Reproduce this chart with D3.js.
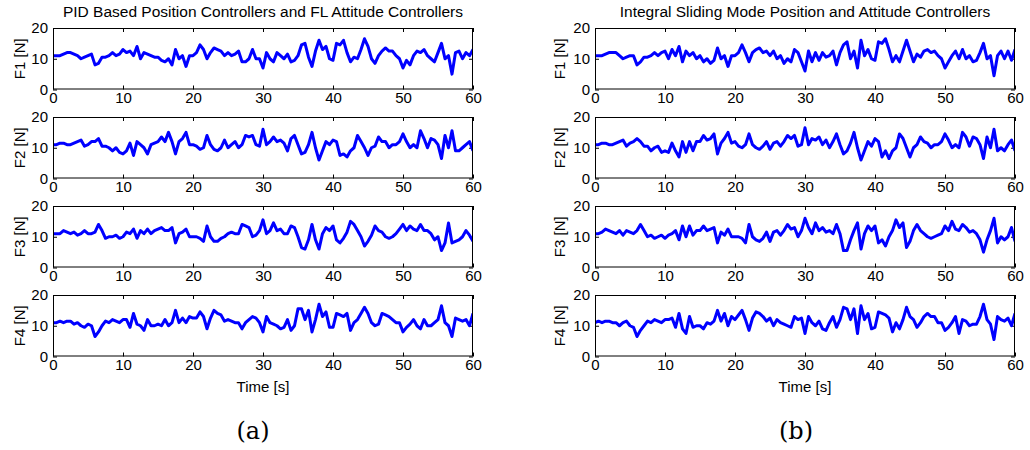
<!DOCTYPE html>
<html>
<head>
<meta charset="utf-8">
<script src="https://cdn.jsdelivr.net/npm/d3@7"></script>
<style>
  body { margin: 0; background: #fff; }
  svg text { font-family: "Liberation Sans", Arial, Helvetica, sans-serif; fill: #000; }
</style>
</head>
<body>
<svg id="chart" width="1030" height="450"></svg>
<script>
// Rotor thrusts sampled every SAMPLE_STEP seconds over a 60 s flight
const SAMPLE_STEP = 0.5;
const xTicks = [0, 10, 20, 30, 40, 50, 60];
const yTicks = [0, 10, 20];
const motorLabels = ["F1 [N]", "F2 [N]", "F3 [N]", "F4 [N]"];
const panelTitles = [
  "PID Based Position Controllers and FL Attitude Controllers",
  "Integral Sliding Mode Position and Attitude Controllers"
];
const panelTags = ["(a)", "(b)"];
const timeLabel = "Time [s]";

// (a) PID position + feedback-linearisation attitude
const pidF1 = [
  11, 11, 11, 11.5, 12, 12, 11.5, 11, 10, 10.5,
  11, 11.5, 8, 8.5, 10.5, 10.5, 11, 12, 11, 11.5,
  13, 12, 12.5, 11, 14, 10, 12, 11.5, 11, 10.5,
  10.5, 9.5, 9, 10, 8, 13, 10, 11, 7.5, 11,
  11, 12, 14.5, 13, 10, 12, 13.5, 13, 12.5, 11,
  12, 11, 11.5, 12.5, 9, 9, 10, 13, 10, 10,
  7, 12, 10, 9, 12, 11, 10, 11.5, 9, 9.5,
  11, 14.5, 15, 10.5, 7.5, 12.5, 16, 13, 14, 10,
  9.5, 15, 14.5, 16, 12, 9, 10.5, 10, 13, 16.5,
  14, 10, 8.5, 11, 12.5, 13.5, 12.5, 12.5, 11, 10,
  7, 9.5, 8, 11, 12.5, 12, 13, 11, 10, 9,
  12, 15, 10, 11, 5, 12, 12.5, 10, 12, 11,
  13
];
const pidF2 = [
  11, 11, 11.5, 11.5, 11, 11, 11.5, 12, 12.5, 10.5,
  11, 12, 12, 13, 10.5, 10.5, 10, 9, 10, 8.5,
  8, 9, 11.5, 7.5, 12, 11, 10, 8, 11, 11.5,
  12, 13.5, 12, 15, 12, 8, 12, 13, 15, 11,
  11, 10.5, 9.5, 10, 14, 11, 9.5, 9, 10, 12.5,
  10, 11, 12, 10, 11, 14, 13.5, 14, 11, 10.5,
  16, 11, 12, 13.5, 12, 12.5, 11.5, 9, 13, 14,
  11, 8, 8.5, 11, 15, 10, 6, 9, 12, 11,
  12.5, 12, 7.5, 8, 7, 9, 10, 14, 12, 10,
  7.5, 10, 10.5, 13.5, 12, 12, 10, 11, 11, 12,
  14.5, 12, 10, 11, 10, 15.5, 13, 10, 13, 12.5,
  11, 6.5, 14, 10, 15.5, 9, 9, 10, 11, 12,
  9
];
const pidF3 = [
  11, 11, 11, 12, 11.5, 11, 11.5, 10.5, 11, 12,
  11, 11, 11.5, 14, 12, 9.5, 10, 10, 10.5, 9.5,
  10, 11.5, 11, 12.5, 9.5, 12, 11, 12.5, 11, 12,
  12.5, 13, 12, 12, 13, 8, 11, 11.5, 12.5, 10,
  10, 10, 9.5, 8.5, 13.5, 10, 8.5, 8.5, 9.5, 10,
  11, 11.5, 11, 11, 14, 13.5, 13, 10, 10.5, 12,
  15.5, 11, 12, 14.5, 12, 12.5, 11, 11, 13.5, 13,
  10, 6.5, 6, 9, 14, 9, 6, 11, 13, 12,
  13.5, 9, 8, 9.5, 11.5, 15, 14, 12, 10, 7,
  8.5, 10.5, 13.5, 12, 11.5, 10, 9.5, 10, 11, 12.5,
  14, 12, 13.5, 12.5, 12, 14, 12, 12, 11, 9,
  10, 5.5, 8, 14.5, 8, 8.5, 9, 10, 12, 10.5,
  8.5
];
const pidF4 = [
  11, 11, 11.5, 11, 11.5, 11.5, 10.5, 11, 10, 9.5,
  10.5, 10, 6.5, 8, 10, 11.5, 11, 12, 11.5, 11,
  12, 12, 9.5, 14, 10.5, 10, 8.5, 12, 10, 10,
  10.5, 10, 12, 10, 11, 15, 11, 12.5, 11, 13,
  12.5, 12.5, 14.5, 13, 9, 12.5, 15, 14, 13.5, 11.5,
  12, 11.5, 11, 11, 9, 11, 12, 13, 12.5, 11,
  8, 13, 11, 10.5, 10, 9, 9.5, 12, 8.5, 10,
  15.5, 15.5, 12, 15, 8, 12, 17, 13, 14.5, 9.5,
  9.5, 14, 13.5, 13, 14, 8.5, 11, 12, 14, 16,
  14, 11, 10, 10.5, 14, 13.5, 13, 12, 11, 11,
  8, 9.5, 10.5, 12, 10, 9, 12, 10, 10, 11,
  12, 16.5, 11, 10, 6.5, 12.5, 12, 11.5, 12, 10,
  14
];

// (b) integral sliding mode position + attitude
const ismF1 = [
  11, 11, 11, 11.5, 12, 12, 12, 11, 10, 10.5,
  11, 11, 8, 9, 10.5, 10.5, 11, 12, 11, 12,
  12.5, 10, 13, 11, 14, 9, 12.5, 11, 12, 10,
  11, 9, 10, 8.5, 9.5, 13.5, 10, 11, 7.5, 11,
  11, 12, 14.5, 12, 9, 12, 13, 13.5, 12, 12.5,
  11, 12.5, 10, 11, 8.5, 10, 9, 13, 12, 9,
  6, 12.5, 9, 12, 9.5, 12, 10.5, 11, 12.5, 8,
  12, 14.5, 15.5, 10, 12.5, 7, 16, 11, 13, 10,
  9.5, 15.5, 15, 16.5, 13, 9, 11, 9, 12.5, 16,
  12.5, 9, 11.5, 10.5, 12.5, 13, 12, 12.5, 11, 10,
  7, 9, 11, 12.5, 10, 13, 10, 11, 9, 9.5,
  12, 15, 10, 11, 4.5, 11, 12.5, 10, 12.5, 9.5,
  13
];
const ismF2 = [
  11, 11, 11.5, 11.5, 11, 11, 11.5, 12, 12.5, 10.5,
  11.5, 12, 13, 12, 10.5, 10.5, 9, 10, 10.5, 8.5,
  9, 8.5, 11.5, 9, 7, 12, 8.5, 12, 9, 12,
  12, 14, 12.5, 13, 14.5, 8, 11.5, 13, 15, 11.5,
  12, 10.5, 10, 11, 14.5, 11, 10, 9.5, 10.5, 12,
  9.5, 11.5, 12, 10.5, 12, 14, 13, 14, 10.5, 11,
  16.5, 11, 13, 12.5, 13.5, 11, 12.5, 10, 12, 14.5,
  11, 8, 9, 11.5, 15, 10, 6, 9, 12, 10.5,
  13, 12, 7, 9, 6.5, 9, 10, 14.5, 13, 10,
  7, 10, 11, 13.5, 12, 11.5, 10, 11, 11, 12,
  14.5, 12.5, 10, 11, 10, 15, 13.5, 10.5, 13.5, 13,
  11, 6.5, 13.5, 10, 16, 9, 10, 9, 11, 12.5,
  9
];
const ismF3 = [
  11, 11, 11.5, 12.5, 12, 11.5, 11, 12, 10.5, 12,
  11.5, 11, 12, 14, 12, 10, 10.5, 9.5, 10, 10.5,
  9.5, 10.5, 11, 12, 9, 13.5, 10, 13.5, 10.5, 12,
  12, 13.5, 12, 12.5, 13, 8, 11.5, 10.5, 12.5, 10,
  10, 10, 9.5, 8, 14, 10, 9, 8.5, 9.5, 11.5,
  8.5, 11.5, 12, 10.5, 12, 14, 12.5, 13, 10, 12,
  16, 13, 11, 14.5, 12, 13, 11.5, 12, 11, 14,
  11, 5.5, 5.5, 9, 12, 14.5, 6, 11, 13.5, 12,
  13.5, 8, 9, 7, 10, 12, 15.5, 13, 14.5, 6.5,
  8.5, 12, 14, 12, 11, 10, 9.5, 10, 10.5, 11,
  13.5, 12, 15, 12.5, 12, 14, 13, 11.5, 12, 11,
  9, 5, 9, 12, 16, 8, 10, 9, 10, 13,
  8.5
];
const ismF4 = [
  11, 11.5, 11, 11.5, 11.5, 11, 11, 10, 11, 11.5,
  10, 9.5, 6.5, 8.5, 10, 11.5, 11, 12, 11.5, 11,
  12, 12, 12.5, 9.5, 14, 9, 7.5, 13, 9.5, 10,
  10, 9, 11, 10.5, 11.5, 15, 11.5, 14, 10, 13,
  12, 13.5, 15, 12, 8.5, 12.5, 14.5, 14, 13, 11.5,
  12.5, 10, 12, 11, 10.5, 10, 9.5, 13, 12, 12.5,
  7.5, 13, 11, 10, 11.5, 9, 8.5, 11, 13, 9.5,
  12, 16, 15.5, 12, 15.5, 7.5, 16.5, 12, 14, 9,
  9.5, 14.5, 14, 13.5, 12.5, 8, 11, 9, 12, 16,
  13, 12, 9.5, 11, 13, 14, 13, 13, 11, 11,
  8.5, 9.5, 11, 13, 7.5, 12, 11.5, 10, 10.5, 10.5,
  13, 17, 12, 10.5, 5.5, 13, 12, 11.5, 12.5, 10,
  14
];

const panelSeries = [
  [pidF1, pidF2, pidF3, pidF4],
  [ismF1, ismF2, ismF3, ismF4]
];

// ---- layout ----
const FONT = 15;
const columns = [
  { left: 53,  right: 473,  ylabelX: 20,  tagX: 253 },
  { left: 595, right: 1015, ylabelX: 560, tagX: 796 }
];
const rowTop = i => 28 + 89 * i;
const rowHeight = 61.5;
const TICK = 4;

const svg = d3.select("#chart");

columns.forEach((col, c) => {
  const x = d3.scaleLinear().domain([0, 60]).range([col.left, col.right]);
  const cx = (col.left + col.right) / 2;

  // panel title
  svg.append("text")
    .attr("x", cx).attr("y", 17)
    .attr("text-anchor", "middle")
    .style("font-size", "15.5px")
    .text(panelTitles[c]);

  panelSeries[c].forEach((values, r) => {
    const top = rowTop(r);
    const y = d3.scaleLinear().domain([0, 20]).range([top + rowHeight, top]);
    const g = svg.append("g");

    // bottom axis with labels, inward ticks
    g.append("g")
      .attr("transform", `translate(0,${top + rowHeight})`)
      .call(d3.axisBottom(x).tickValues(xTicks).tickSizeInner(-TICK).tickSizeOuter(0).tickPadding(3))
      .call(a => a.select(".domain").remove())
      .call(a => a.selectAll("text").style("font-size", FONT + "px"));

    // top axis ticks only
    g.append("g")
      .attr("transform", `translate(0,${top})`)
      .call(d3.axisTop(x).tickValues(xTicks).tickSizeInner(-TICK).tickSizeOuter(0).tickFormat(""))
      .call(a => a.select(".domain").remove());

    // left axis with labels
    g.append("g")
      .attr("transform", `translate(${col.left},0)`)
      .call(d3.axisLeft(y).tickValues(yTicks).tickSizeInner(-TICK).tickSizeOuter(0).tickPadding(5))
      .call(a => a.select(".domain").remove())
      .call(a => a.selectAll("text").style("font-size", FONT + "px"));

    // right axis ticks only
    g.append("g")
      .attr("transform", `translate(${col.right},0)`)
      .call(d3.axisRight(y).tickValues(yTicks).tickSizeInner(-TICK).tickSizeOuter(0).tickFormat(""))
      .call(a => a.select(".domain").remove());

    g.selectAll(".tick line").attr("stroke", "#000");

    // clip region for the trace
    const clipId = `clip-${c}-${r}`;
    g.append("clipPath").attr("id", clipId)
      .append("rect")
      .attr("x", col.left).attr("y", top)
      .attr("width", col.right - col.left).attr("height", rowHeight);

    const line = d3.line()
      .x((d, i) => x(i * SAMPLE_STEP))
      .y(d => y(d));

    g.append("path")
      .datum(values)
      .attr("clip-path", `url(#${clipId})`)
      .attr("fill", "none")
      .attr("stroke", "#0000ff")
      .attr("stroke-width", 3)
      .attr("stroke-linejoin", "round")
      .attr("d", line);

    // box
    g.append("rect")
      .attr("x", col.left + 0.5).attr("y", top + 0.5)
      .attr("width", col.right - col.left - 1).attr("height", rowHeight - 1)
      .attr("fill", "none").attr("stroke", "#000").attr("stroke-width", 1);

    // y label
    g.append("text")
      .attr("transform", `translate(${col.ylabelX},${top + rowHeight / 2}) rotate(-90)`)
      .attr("text-anchor", "middle")
      .attr("dy", "0.35em")
      .style("font-size", FONT + "px")
      .text(motorLabels[r]);
  });

  // x label
  svg.append("text")
    .attr("x", cx).attr("y", 392)
    .attr("text-anchor", "middle")
    .style("font-size", FONT + "px")
    .text(timeLabel);

  // subfigure tag
  svg.append("text")
    .attr("x", col.tagX).attr("y", 439)
    .attr("text-anchor", "middle")
    .style("font-family", "'DejaVu Serif', 'Liberation Serif', serif")
    .style("font-size", "24px")
    .text(panelTags[c]);
});
</script>
</body>
</html>
